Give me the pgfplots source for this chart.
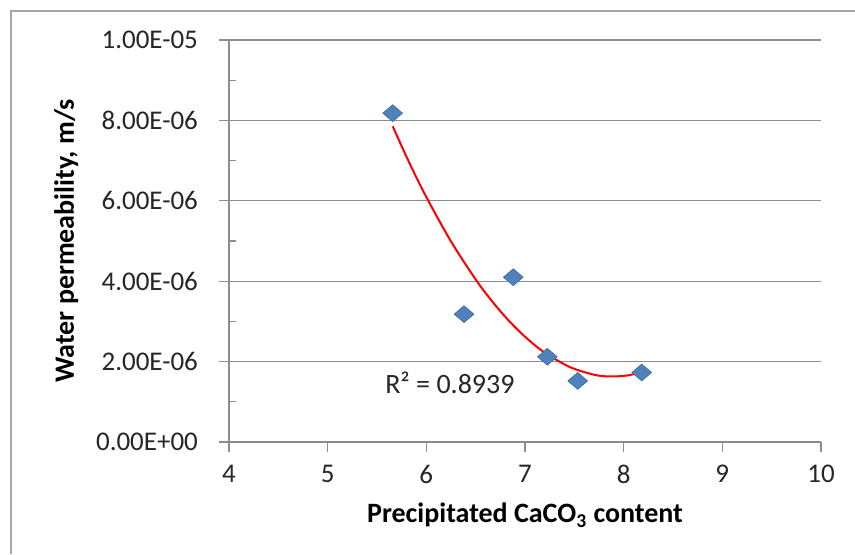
\documentclass[border=0pt]{standalone}
\usepackage{fontspec}
\setmainfont{Carlito}
\usepackage{pgfplots}
\pgfplotsset{compat=1.18}
\definecolor{ptblue}{HTML}{4F81BD}
\definecolor{ptedge}{HTML}{3C6A9E}
\definecolor{axgray}{HTML}{8C8C8C}
\definecolor{txt}{HTML}{262626}
\begin{document}
\begin{tikzpicture}
\useasboundingbox (-114.5pt,-56pt) rectangle (313pt,221pt);
\draw[color=black!35, line width=0.9pt] (-109pt,-56pt) -- (-109pt,215.5pt) -- (313pt,215.5pt);
\begin{axis}[
    at={(0,0)}, anchor=south west,
    scale only axis,
    width=296pt, height=201pt,
    xmin=4, xmax=10, ymin=0, ymax=1e-5,
    axis x line*=bottom, axis y line*=left,
    axis line style={axgray, line width=0.6pt, -},
    xtick={4,5,6,7,8,9,10},
    ytick={0,2e-6,4e-6,6e-6,8e-6,1e-5},
    yticklabels={0.00E+00,2.00E-06,4.00E-06,6.00E-06,8.00E-06,1.00E-05},
    scaled y ticks=false,
    minor y tick num=1,
    tick align=outside,
    major tick length=5pt,
    minor tick length=-3.5pt,
    tick style={axgray, line width=0.6pt},
    ymajorgrids,
    grid style={axgray, line width=0.6pt},
    /pgf/number format/assume math mode=true,
    ticklabel style={font=\fontsize{13.5}{15}\selectfont, text=txt},
    yticklabel style={xshift=-7pt},
    xticklabel style={yshift=-3pt},
    xlabel={Precipitated CaCO\textsubscript{3} content},
    ylabel={Water permeability, m/s},
    label style={font=\fontsize{14}{16}\selectfont\bfseries, text=black},
    xlabel style={at={(axis description cs:0.5,-0.182)}, anchor=center},
    ylabel style={at={(axis description cs:-0.275,0.5)}, anchor=center},
]
\addplot[red, line width=1pt, smooth, no marks] coordinates {
    (5.66,7.85e-6) (5.80,7.09e-6) (5.95,6.33e-6) (6.10,5.64e-6)
    (6.25,4.99e-6) (6.40,4.41e-6) (6.55,3.87e-6) (6.70,3.40e-6)
    (6.85,2.98e-6) (7.00,2.62e-6) (7.15,2.31e-6) (7.30,2.07e-6)
    (7.45,1.87e-6) (7.60,1.74e-6) (7.75,1.65e-6) (7.90,1.63e-6)
    (8.05,1.66e-6) (8.18,1.74e-6)
};
\addplot[only marks, mark=square*, mark size=3.5pt,
    mark options={fill=ptblue, draw=ptedge, line width=0.3pt, yscale=0.85, rotate=45}]
    coordinates {
    (5.659,8.18e-6) (6.382,3.18e-6) (6.881,4.10e-6)
    (7.226,2.12e-6) (7.534,1.52e-6) (8.183,1.73e-6)
};
\node[anchor=west, font=\fontsize{14}{16}\selectfont, text=txt, inner sep=0pt]
    at (axis cs:5.58,1.47e-6) {R² = 0.8939};
\end{axis}
\end{tikzpicture}
\end{document}
